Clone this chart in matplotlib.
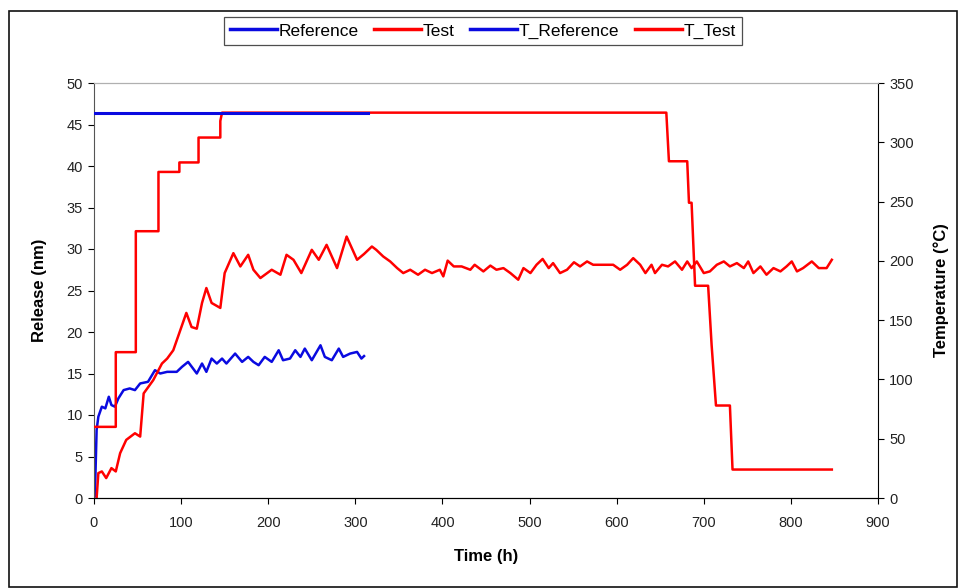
import matplotlib
matplotlib.use('Agg')
import matplotlib.pyplot as plt
from matplotlib.patches import Rectangle

plt.rcParams['font.family'] = ['Liberation Sans', 'DejaVu Sans']

# release curves (nm) vs time (h)
ref_h = [1, 3, 5, 9, 13, 17, 20, 24, 28, 34, 41, 47, 53, 62, 70, 76, 84, 95, 101, 108,
         118, 124, 129, 135, 141, 147, 152, 162, 170, 177, 183, 189, 196, 204, 212, 217,
         225, 231, 237, 242, 250, 260, 265, 273, 281, 286, 294, 302, 307, 310]
ref_nm = [0.2, 8.2, 9.8, 11.0, 10.8, 12.2, 11.2, 11.0, 12.0, 13.0, 13.2, 13.0, 13.8, 14.0,
          15.4, 15.0, 15.2, 15.2, 15.8, 16.4, 15.0, 16.2, 15.2, 16.8, 16.2, 16.8, 16.2,
          17.4, 16.4, 17.0, 16.4, 16.0, 17.0, 16.4, 17.8, 16.6, 16.8, 17.8, 17.0, 18.0,
          16.6, 18.4, 17.0, 16.6, 18.0, 17.0, 17.4, 17.6, 16.8, 17.1]

test_h = [3, 5, 9, 14, 20, 25, 30, 37, 47, 53, 57, 68, 78, 84, 91, 99, 106, 112, 118, 124,
          129, 135, 145, 150, 160, 168, 177, 183, 191, 204, 214, 221, 229, 238, 250, 258,
          267, 279, 290, 302, 310, 319, 324, 332, 340, 348, 355, 363, 372, 380, 388, 397,
          401, 406, 413, 422, 432, 437, 447, 455, 462, 470, 478, 487, 493, 501, 508, 515,
          522, 527, 535, 543, 551, 558, 566, 573, 585, 596, 604, 612, 619, 627, 633, 640,
          644, 652, 659, 667, 675, 681, 686, 692, 700, 707, 715, 723, 730, 738, 746, 751,
          757, 765, 772, 780, 788, 795, 801, 807, 814, 824, 832, 841, 847]
test_nm = [0, 3.0, 3.2, 2.4, 3.6, 3.2, 5.4, 7.0, 7.8, 7.4, 12.6, 14.2, 16.2, 16.8, 17.8,
           20.2, 22.3, 20.6, 20.4, 23.5, 25.3, 23.5, 22.9, 27.1, 29.5, 27.9, 29.3, 27.5,
           26.5, 27.5, 26.9, 29.3, 28.7, 27.1, 29.9, 28.7, 30.5, 27.7, 31.5, 28.7, 29.4,
           30.3, 29.9, 29.1, 28.5, 27.7, 27.1, 27.5, 26.9, 27.5, 27.1, 27.5, 26.7, 28.6,
           27.9, 27.9, 27.5, 28.1, 27.3, 28.0, 27.5, 27.7, 27.1, 26.3, 27.7, 27.1, 28.1,
           28.8, 27.7, 28.3, 27.1, 27.5, 28.4, 27.9, 28.5, 28.1, 28.1, 28.1, 27.5, 28.1,
           28.9, 28.1, 27.1, 28.1, 27.1, 28.1, 27.9, 28.5, 27.5, 28.5, 27.7, 28.5, 27.1,
           27.3, 28.1, 28.5, 27.9, 28.3, 27.7, 28.5, 27.1, 27.9, 26.9, 27.7, 27.3, 27.9,
           28.5, 27.3, 27.7, 28.5, 27.7, 27.7, 28.7]

# temperature programs (deg C)
t_ref_h = [0, 314]
t_ref_c = [325, 325]
t_test_h = [0, 25, 25, 48, 48, 74, 74, 98, 98, 120, 120, 145, 145, 147, 657, 660, 681,
            683, 686, 690, 705, 709, 714, 730, 733, 847]
t_test_c = [60, 60, 123, 123, 225, 225, 275, 275, 283, 283, 304, 304, 318, 325, 325, 284,
            284, 249, 249, 179, 179, 129, 78, 78, 24, 24]

BLUE = '#0a0ae0'
RED = '#ff0000'

fig = plt.figure(figsize=(9.58, 5.88), dpi=100)
ax = fig.add_axes([94 / 958, 90 / 588, 784 / 958, 415 / 588])
ax2 = ax.twinx()

l1, = ax.plot(ref_h, ref_nm, color=BLUE, lw=1.8, label='Reference')
l2, = ax.plot(test_h, test_nm, color=RED, lw=1.8, label='Test')
l4, = ax2.plot(t_test_h, t_test_c, color=RED, lw=1.8, label='T_Test')
l3, = ax2.plot(t_ref_h, t_ref_c, color=BLUE, lw=2.2, label='T_Reference')

ax.set_xlim(0, 900)
ax.set_ylim(0, 50)
ax2.set_ylim(0, 350)
ax.set_xticks(range(0, 901, 100))
ax.set_yticks(range(0, 51, 5))
ax2.set_yticks(range(0, 351, 50))

for a in (ax, ax2):
    a.tick_params(direction='out', length=4, width=0.8, labelsize=10.5,
                  labelcolor='#222222', pad=4)
    a.spines['top'].set_color('#b0b0b0')
ax.tick_params(axis='x', pad=9)
ax.spines['left'].set_color('#555555')
ax2.spines['left'].set_visible(False)
ax.spines['right'].set_visible(False)

ax.set_xlabel('Time (h)', fontsize=12, fontweight='bold', labelpad=14)
ax.set_ylabel('Release (nm)', fontsize=12, fontweight='bold', labelpad=14)
ax2.set_ylabel('Temperature (°C)', fontsize=12, fontweight='bold', labelpad=14)

leg = fig.legend(handles=[l1, l2, l3, l4], loc='center', bbox_to_anchor=(483 / 958, 1 - 31 / 588),
                 ncol=4, fontsize=12.5, frameon=True, fancybox=False, handlelength=2.7,
                 handletextpad=0.1, columnspacing=0.9, borderpad=0.35)
leg.get_frame().set_edgecolor('#222222')
leg.get_frame().set_linewidth(0.9)
for h in leg.get_lines():
    h.set_linewidth(2.5)

fig.patches.append(Rectangle((9 / 958, 1 / 588), 948 / 958, 576 / 588, transform=fig.transFigure,
                             fill=False, edgecolor='#111111', lw=1.2))

fig.savefig('out.png', dpi=100)
